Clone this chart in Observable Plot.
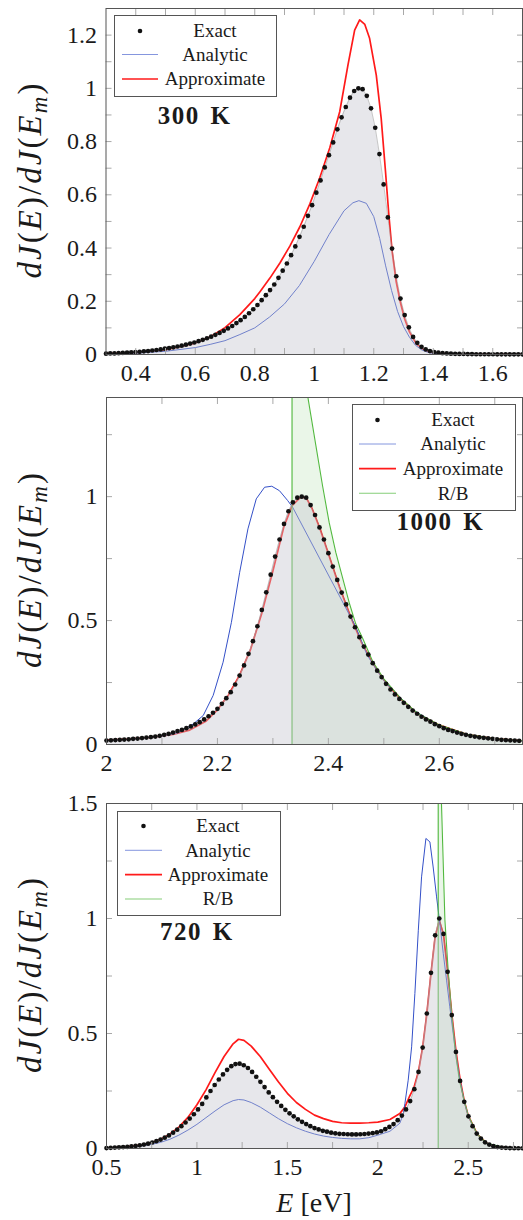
<!DOCTYPE html>
<html><head><meta charset="utf-8">
<script src="https://cdn.jsdelivr.net/npm/d3@7"></script>
<script src="https://cdn.jsdelivr.net/npm/@observablehq/plot@0.6"></script>
<style>
body{margin:0;background:#fff;}
#wrap{position:relative;width:523px;height:1220px;overflow:hidden;font-family:"Liberation Serif",serif;}
#wrap svg{position:absolute;left:0;}
</style></head><body><div id="wrap"></div>
<script>
// ================= DATA =================
// ---- Panel 1 : 300 K ----
const p1ExactStart = 0.3, p1ExactStep = 0.01414;
const p1Exact = [
0.003,0.004,0.004,0.005,0.006,0.007,0.008,0.009,0.010,0.012,
0.013,0.015,0.017,0.019,0.022,0.024,0.027,0.030,0.033,0.037,
0.041,0.045,0.050,0.055,0.061,0.067,0.074,0.081,0.089,0.098,
0.107,0.118,0.129,0.141,0.155,0.170,0.186,0.204,0.223,0.242,
0.263,0.288,0.315,0.342,0.373,0.406,0.442,0.480,0.521,0.561,
0.608,0.654,0.703,0.749,0.797,0.846,0.891,0.930,0.965,0.990,
1.000,0.997,0.972,0.925,0.852,0.753,0.639,0.515,0.398,0.294,
0.210,0.148,0.102,0.066,0.044,0.029,0.019,0.013,0.009,0.007,
0.005,0.004,0.003,0.0025,0.002,0.002,0.0015,0.0015,0.001,0.001,
0.001,0.001,0.001,0.0008,0.0008,0.0008,0.0006,0.0006,0.0005,0.0005];
const p1AnalyticE = [0.30,0.40,0.50,0.60,0.65,0.70,0.75,0.80,0.85,0.90,0.95,1.00,1.05,1.10,1.13,1.15,1.175,1.20,1.22,1.24,1.26,1.28,1.30,1.32,1.34,1.36,1.38,1.40,1.45,1.50,1.60,1.70];
const p1AnalyticV = [0.002,0.005,0.012,0.026,0.038,0.052,0.075,0.100,0.141,0.190,0.259,0.350,0.451,0.540,0.570,0.578,0.568,0.518,0.436,0.333,0.240,0.162,0.105,0.065,0.035,0.018,0.009,0.004,0.001,0.0005,0.0002,0.0001];
const p1ApproxE = [0.30,0.40,0.50,0.60,0.65,0.70,0.75,0.80,0.8176,0.851,0.8846,0.918,0.9516,0.985,1.0186,1.052,1.0856,1.1134,1.1358,1.1526,1.17,1.186,1.2085,1.225,1.2387,1.2508,1.262,1.2755,1.289,1.3034,1.32,1.3425,1.3704,1.40,1.45,1.50,1.60,1.70];
const p1ApproxV = [0.003,0.007,0.017,0.043,0.066,0.101,0.150,0.210,0.236,0.287,0.344,0.407,0.480,0.565,0.664,0.776,0.912,1.088,1.219,1.257,1.240,1.188,1.050,0.887,0.699,0.524,0.385,0.273,0.198,0.135,0.085,0.041,0.016,0.006,0.002,0.001,0.0005,0.0002];
const p1XTicks = [0.4,0.6,0.8,1,1.2,1.4,1.6];
const p1XTickLabels = ["0.4","0.6","0.8","1","1.2","1.4","1.6"];
const p1YTicks = [0,0.2,0.4,0.6,0.8,1,1.2];
const p1YTickLabels = ["0","0.2","0.4","0.6","0.8","1","1.2"];
const p1XMinor = [0.4,0.5,0.6,0.7,0.8,0.9,1.0,1.1,1.2,1.3,1.4,1.5,1.6];
const p1YMinor = [0.1,0.2,0.3,0.4,0.5,0.6,0.7,0.8,0.9,1.0,1.1,1.2];

// ---- Panel 2 : 1000 K ----
const p2ExactStart = 2.0, p2ExactStep = 0.008;
const p2Exact = [
0.016,0.017,0.018,0.019,0.020,0.021,0.023,0.024,0.026,0.028,
0.030,0.032,0.035,0.039,0.043,0.048,0.054,0.059,0.066,0.073,
0.081,0.090,0.101,0.114,0.128,0.144,0.164,0.187,0.211,0.242,
0.278,0.319,0.366,0.417,0.477,0.543,0.614,0.685,0.758,0.827,
0.890,0.941,0.977,0.996,1.000,0.996,0.966,0.926,0.876,0.827,
0.772,0.718,0.664,0.613,0.565,0.516,0.473,0.433,0.395,0.363,
0.328,0.298,0.272,0.245,0.222,0.202,0.184,0.168,0.152,0.137,
0.124,0.112,0.101,0.092,0.082,0.074,0.066,0.059,0.054,0.048,
0.043,0.039,0.035,0.032,0.029,0.027,0.025,0.023,0.021,0.019,
0.018,0.017,0.016,0.015];
const p2AnalyticE = [2.00,2.05,2.10,2.13,2.1565,2.1744,2.1923,2.2102,2.2252,2.2401,2.255,2.27,2.285,2.298,2.3118,2.3267,2.3357,2.4493,2.47,2.50,2.55,2.60,2.65,2.70,2.75];
const p2AnalyticV = [0.016,0.022,0.034,0.048,0.083,0.117,0.198,0.332,0.493,0.695,0.870,0.991,1.038,1.042,1.024,0.984,0.957,0.475,0.360,0.258,0.143,0.076,0.039,0.021,0.014];
const p2ApproxE = [2.00,2.04,2.08,2.12,2.15,2.18,2.20,2.22,2.24,2.26,2.28,2.30,2.32,2.335,2.35,2.36,2.37,2.385,2.40,2.42,2.44,2.46,2.48,2.50,2.53,2.56,2.60,2.65,2.70,2.75];
const p2ApproxV = [0.018,0.022,0.029,0.041,0.058,0.095,0.140,0.200,0.280,0.385,0.530,0.700,0.880,0.965,0.998,0.995,0.955,0.870,0.770,0.635,0.516,0.410,0.328,0.260,0.185,0.125,0.078,0.040,0.023,0.015];
const p2RBE = [2.3345,2.3346,2.345,2.355,2.3626,2.3775,2.3895,2.4014,2.4134,2.4253,2.4373,2.4493,2.461,2.48,2.50,2.53,2.56,2.60,2.65,2.70,2.75];
const p2RBV = [0,6,2.2,1.65,1.407,1.206,1.044,0.896,0.775,0.675,0.574,0.487,0.433,0.335,0.265,0.187,0.127,0.079,0.041,0.023,0.015];
const p2XTicks = [2,2.2,2.4,2.6];
const p2XTickLabels = ["2","2.2","2.4","2.6"];
const p2YTicks = [0,0.5,1];
const p2YTickLabels = ["0","0.5","1"];
const p2XMinor = [2.1,2.2,2.3,2.4,2.5,2.6,2.7];
const p2YMinor = [0.25,0.5,0.75,1,1.25];

// ---- Panel 3 : 720 K ----
const p3ExactStart = 0.5, p3ExactStep = 0.023;
const p3Exact = [
0.002,0.003,0.004,0.005,0.006,0.007,0.009,0.011,0.014,0.017,
0.021,0.026,0.032,0.039,0.047,0.057,0.069,0.082,0.097,0.113,
0.130,0.149,0.170,0.194,0.222,0.250,0.276,0.300,0.322,0.342,
0.358,0.367,0.369,0.362,0.350,0.333,0.312,0.290,0.267,0.244,
0.223,0.203,0.185,0.168,0.153,0.140,0.127,0.116,0.106,0.097,
0.089,0.083,0.077,0.073,0.069,0.066,0.064,0.063,0.062,0.061,
0.061,0.062,0.063,0.065,0.067,0.070,0.075,0.084,0.094,0.106,
0.123,0.143,0.170,0.206,0.258,0.333,0.439,0.587,0.764,0.927,
1.000,0.933,0.768,0.580,0.420,0.294,0.203,0.140,0.097,0.065,
0.043,0.027,0.017,0.010,0.006,0.004,0.003,0.002,0.0015,0.001,
0.001];
const p3AnalyticE = [0.5,0.6,0.7,0.75,0.8,0.85,0.9,0.95,1.0,1.05,1.1,1.15,1.2,1.23,1.26,1.3,1.35,1.4,1.45,1.5,1.55,1.6,1.65,1.7,1.75,1.8,1.85,1.9,1.95,2.0,2.067,2.122,2.141,2.150,2.168,2.187,2.205,2.224,2.242,2.266,2.288,2.306,2.325,2.343,2.362,2.380,2.398,2.417,2.435,2.455,2.478,2.5,2.55,2.6,2.7,2.8];
const p3AnalyticV = [0.002,0.005,0.012,0.018,0.027,0.040,0.058,0.080,0.105,0.134,0.163,0.190,0.208,0.213,0.211,0.200,0.180,0.155,0.130,0.108,0.090,0.075,0.063,0.054,0.048,0.044,0.042,0.042,0.047,0.058,0.075,0.110,0.150,0.196,0.297,0.442,0.674,0.949,1.181,1.348,1.333,1.224,1.094,0.978,0.848,0.732,0.616,0.500,0.384,0.294,0.203,0.140,0.062,0.023,0.004,0.001];
const p3ApproxE = [0.5,0.6,0.7,0.75,0.8,0.85,0.9,0.95,1.0,1.05,1.1,1.15,1.2,1.23,1.26,1.3,1.35,1.4,1.45,1.5,1.55,1.6,1.65,1.7,1.75,1.8,1.85,1.9,1.95,2.0,2.067,2.122,2.15,2.174,2.2,2.225,2.248,2.271,2.294,2.317,2.34,2.363,2.386,2.409,2.432,2.455,2.478,2.5,2.55,2.6,2.65,2.7,2.8];
const p3ApproxV = [0.002,0.006,0.016,0.026,0.040,0.062,0.093,0.135,0.190,0.255,0.330,0.400,0.455,0.475,0.470,0.445,0.400,0.345,0.290,0.240,0.200,0.170,0.145,0.130,0.118,0.112,0.110,0.110,0.112,0.115,0.126,0.152,0.181,0.224,0.265,0.335,0.440,0.585,0.760,0.920,0.990,0.930,0.770,0.585,0.425,0.300,0.207,0.143,0.062,0.024,0.009,0.004,0.001];
const p3RBE = [2.334,2.3341,2.345,2.352,2.371,2.389,2.408,2.426,2.45,2.478,2.5,2.55,2.6,2.7,2.8];
const p3RBV = [0,8,2.2,1.5,0.993,0.775,0.588,0.44,0.30,0.207,0.143,0.062,0.024,0.004,0.001];
const p3XTicks = [0.5,1,1.5,2,2.5];
const p3XTickLabels = ["0.5","1","1.5","2","2.5"];
const p3YTicks = [0,0.5,1,1.5];
const p3YTickLabels = ["0","0.5","1","1.5"];
const p3XMinor = [0.75,1,1.25,1.5,1.75,2,2.25,2.5,2.75];
const p3YMinor = [0.25,0.5,0.75,1,1.25];

const legendNames = ["Exact","Analytic","Approximate","R/B"];
const yLabelParts = [["d","i"],["J","i"],["(","n"],["E","i"],[")","n"],["/","n"],["d","i"],["J","i"],["(","n"],["E","i"],["m","sub"],[")","n"]];

// ================= STYLE =================
const C = {red:"#ff1a1a", blue:"#3450c8", green:"#52b93f", fill:"#c6c6cf", dot:"#111", frame:"#555", tick:"#a8a8a8", text:"#1a1a1a"};
const FONT = '"Liberation Serif", "Times New Roman", serif';
const wrap = d3.select("#wrap");

function pts(E, V){ return E.map((e,i)=>({E:e, v:V[i]})); }
function grid(start, step, V){ return V.map((v,i)=>({E:start+i*step, v})); }

function panel(o){
  const exact = grid(o.exStart, o.exStep, o.ex);
  const analytic = pts(o.aE, o.aV);
  const approx = pts(o.pE, o.pV);
  const rb = o.rE ? pts(o.rE, o.rV) : null;
  const lab = (ticks, labels) => d => labels[ticks.indexOf(d)];
  const minor = {tickSize:-6, tickFormat:()=>"", stroke:C.tick, label:null};
  const marks = [];
  if (rb) marks.push(Plot.areaY(rb, {x:"E", y:"v", fill:C.green, fillOpacity:0.12, clip:true}));
  marks.push(Plot.line(approx, {x:"E", y:"v", stroke:C.red, strokeWidth:1.7, clip:true}));
  marks.push(Plot.line(analytic, {x:"E", y:"v", stroke:C.blue, strokeWidth:1, clip:true}));
  if (rb) marks.push(Plot.line(rb, {x:"E", y:"v", stroke:C.green, strokeWidth:1.1, clip:true}));
  marks.push(Plot.areaY(exact, {x:"E", y:"v", fill:C.fill, fillOpacity:0.42, clip:true}));
  marks.push(Plot.line(exact, {x:"E", y:"v", stroke:"#999", strokeWidth:0.8, strokeOpacity:0.7, clip:true}));
  marks.push(Plot.dot(exact, {x:"E", y:"v", r:2.35, fill:C.dot, stroke:"none"}));
  marks.push(Plot.axisX(o.xMinor, {anchor:"bottom", ...minor}));
  marks.push(Plot.axisX(o.xMinor, {anchor:"top", ...minor}));
  marks.push(Plot.axisY(o.yMinor, {anchor:"left", ...minor}));
  marks.push(Plot.axisY(o.yMinor, {anchor:"right", ...minor}));
  marks.push(Plot.axisX(o.xT, {anchor:"bottom", tickSize:0, tickPadding:9, tickFormat:lab(o.xT,o.xL), label:null, fill:C.text}));
  marks.push(Plot.axisY(o.yT, {anchor:"left", tickSize:0, tickPadding:9, tickFormat:lab(o.yT,o.yL), label:null, fill:C.text}));
  marks.push(Plot.frame({stroke:C.frame, strokeWidth:1}));
  marks.push(Plot.text([o.note], {x:o.noteX, y:o.noteY, text:d=>d, fontSize:25, fontWeight:"bold", fill:C.text, textAnchor:"middle", lineAnchor:"middle"}));
  const svg = Plot.plot({
    width:523, height:o.height,
    marginLeft:o.ml, marginRight:1, marginTop:o.mt, marginBottom:o.mb,
    x:{domain:o.xDom}, y:{domain:o.yDom},
    style:{fontFamily:FONT, fontSize:"24px", background:"transparent", color:C.text},
    marks
  });
  d3.select(svg).style("top", o.top+"px");
  // spacing of the bold temperature annotation
  d3.select(svg).selectAll("text").filter(function(){ return this.textContent === o.note; })
    .attr("letter-spacing","1.5px").attr("word-spacing","3px");
  // y-axis label with math-style parts
  const plotMid = o.mt + (o.height - o.mt - o.mb)/2;
  const t = d3.select(svg).append("text")
    .attr("transform", `translate(41,${plotMid}) rotate(-90)`)
    .attr("text-anchor","middle").attr("font-size",33).attr("fill",C.text)
    .attr("font-family",FONT).attr("textLength",195).attr("lengthAdjust","spacing");
  yLabelParts.forEach(([s,k])=>{
    const ts = t.append("tspan").text(s);
    if (k==="i") ts.attr("font-style","italic");
    if (k==="sub") ts.attr("font-style","italic").attr("font-size",23).attr("baseline-shift","-25%");
  });
  wrap.node().appendChild(svg);
  return svg;
}

function legend(o){
  const s = wrap.append("svg").attr("width",o.w).attr("height",o.h)
    .style("left",o.x+"px").style("top",o.y+"px");
  s.append("rect").attr("x",0.5).attr("y",0.5).attr("width",o.w-1).attr("height",o.h-1)
    .attr("fill","#fff").attr("stroke",C.frame);
  o.rows.forEach((ry,i)=>{
    const name = legendNames[i];
    if (i===0) s.append("circle").attr("cx",(o.s0+o.s1)/2).attr("cy",ry).attr("r",2.3).attr("fill",C.dot);
    else s.append("line").attr("x1",o.s0).attr("x2",o.s1).attr("y1",ry).attr("y2",ry)
      .attr("stroke",[null,C.blue,C.red,C.green][i]).attr("stroke-width",[0,1,1.7,1.1][i])
      .attr("stroke-opacity",[1,0.6,1,0.7][i]);
    s.append("text").attr("x",o.tc).attr("y",ry).attr("dy","0.33em").attr("text-anchor","middle")
      .attr("font-family",FONT).attr("font-size",19).attr("fill",C.text).text(name);
  });
}

panel({top:0, height:390, ml:105.5, mt:8, mb:36, xDom:[0.3,1.7], yDom:[0,1.3],
  exStart:p1ExactStart, exStep:p1ExactStep, ex:p1Exact, aE:p1AnalyticE, aV:p1AnalyticV, pE:p1ApproxE, pV:p1ApproxV,
  xT:p1XTicks, xL:p1XTickLabels, yT:p1YTicks, yL:p1YTickLabels, xMinor:p1XMinor, yMinor:p1YMinor,
  note:"300 K", noteX:0.598, noteY:0.896});
panel({top:390, height:390, ml:106, mt:7, mb:36, xDom:[2,2.75], yDom:[0,1.4],
  exStart:p2ExactStart, exStep:p2ExactStep, ex:p2Exact, aE:p2AnalyticE, aV:p2AnalyticV, pE:p2ApproxE, pV:p2ApproxV, rE:p2RBE, rV:p2RBV,
  xT:p2XTicks, xL:p2XTickLabels, yT:p2YTicks, yL:p2YTickLabels, xMinor:p2XMinor, yMinor:p2YMinor,
  note:"1000 K", noteX:2.602, noteY:0.896});
const s3 = panel({top:780, height:440, ml:106, mt:23, mb:72, xDom:[0.5,2.8], yDom:[0,1.5],
  exStart:p3ExactStart, exStep:p3ExactStep, ex:p3Exact, aE:p3AnalyticE, aV:p3AnalyticV, pE:p3ApproxE, pV:p3ApproxV, rE:p3RBE, rV:p3RBV,
  xT:p3XTicks, xL:p3XTickLabels, yT:p3YTicks, yL:p3YTickLabels, xMinor:p3XMinor, yMinor:p3YMinor,
  note:"720 K", noteX:1.0, noteY:0.942});
// x-axis label of the bottom panel
const xl = d3.select(s3).append("text").attr("x",314).attr("y",431.5).attr("text-anchor","middle")
  .attr("font-family",FONT).attr("font-size",28).attr("fill",C.text);
xl.append("tspan").attr("font-style","italic").text("E");
xl.append("tspan").text(" [eV]");

legend({x:114, y:15, w:163, h:82, s0:8, s1:44, tc:101, rows:[16,39.5,64]});
legend({x:352, y:404, w:164, h:107, s0:7, s1:44, tc:101, rows:[16,40,64.7,89.3]});
legend({x:117, y:811, w:164, h:105, s0:8, s1:45, tc:101, rows:[15,39.3,63.6,88]});
</script></body></html>
